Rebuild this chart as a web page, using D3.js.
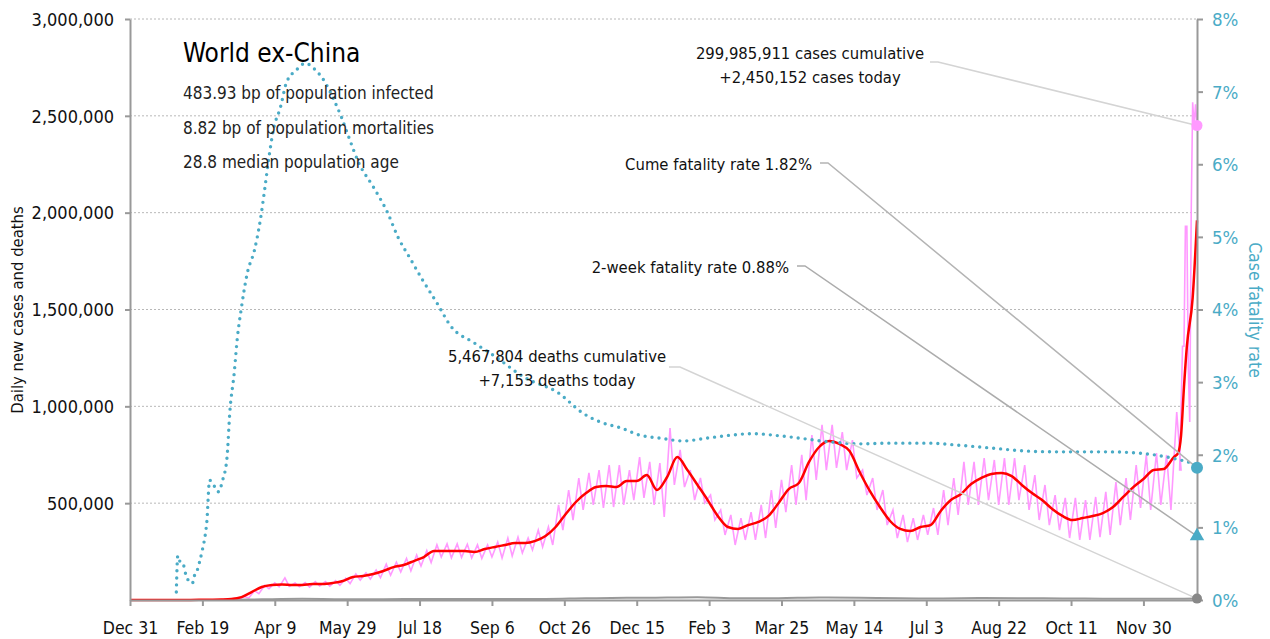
<!DOCTYPE html>
<html>
<head>
<meta charset="utf-8">
<script src="https://cdn.jsdelivr.net/npm/d3@7"></script>
<style>
  body { margin: 0; background: #fff; }
  text { font-family: 'Liberation Sans Narrow', 'DejaVu Sans Condensed', sans-serif; font-stretch: condensed; }
</style>
</head>
<body>
<script>
// variables:
var w = 1270
var h = 639
var padLeft = 130
var padRight = 1197
var padTop = 19
var padBottom = 600

var svg = d3.select('body')
  .append('svg')
  .attr('width', w)
  .attr('height', h)

// data: day offsets count from Dec 31, 2019
var startDate = new Date(2019, 11, 31)
var lastDay = 737

// 7-day average of new cases, one value per week (day 0, 7, 14, ...)
var avgWeekly = [0, 0, 100, 200, 300, 500, 600, 1000, 1500, 2500,
  5000, 15000, 41000, 67000, 77000, 80000, 78000, 78000, 83000, 83000,
  88000, 98000, 119000, 124000, 134000, 150000, 170000, 181000, 201000, 222000,
  253000, 253000, 253000, 253000, 248000, 263000, 274000, 284000, 294000, 294000,
  305000, 330000, 377000, 444000, 506000, 552000, 583000, 589000, 583000, 614000,
  614000, 645000, 568000, 635000, 738000, 671000, 594000, 516000, 434000, 377000,
  367000, 387000, 403000, 434000, 501000, 573000, 604000, 713000, 790000, 821000,
  806000, 769000, 661000, 563000, 480000, 408000, 367000, 356000, 377000, 387000,
  460000, 516000, 547000, 599000, 630000, 651000, 656000, 640000, 594000, 552000,
  516000, 470000, 434000, 413000, 423000, 434000, 449000, 480000, 532000, 583000,
  625000, 671000, 676000, 738000]
// last days of the average (Omicron surge)
var avgTailDay = [724, 726, 728, 730, 734, 737]
var avgTailValue = [760000, 850000, 1100000, 1310000, 1560000, 1960000]

// daily new cases: weekly high and weekly low, same weeks as above
var dailyHigh = [0, 0, 100, 200, 300, 500, 600, 1000, 1600, 2800,
  7000, 18000, 48000, 75000, 88000, 114000, 88000, 90000, 95000, 95000,
  100000, 112000, 135000, 140000, 155000, 185000, 195000, 215000, 232000, 255000,
  285000, 290000, 290000, 288000, 285000, 284000, 299000, 320000, 325000, 320000,
  361000, 377000, 491000, 568000, 630000, 656000, 671000, 697000, 697000, 671000,
  738000, 713000, 707000, 888000, 775000, 671000, 630000, 542000, 465000, 439000,
  423000, 454000, 491000, 568000, 620000, 697000, 749000, 852000, 904000, 904000,
  867000, 826000, 671000, 630000, 568000, 465000, 439000, 423000, 439000, 475000,
  568000, 630000, 713000, 713000, 733000, 723000, 733000, 733000, 697000, 645000,
  594000, 542000, 527000, 527000, 516000, 532000, 558000, 609000, 630000, 697000,
  749000, 759000, 749000, 971000]
var dailyLow = [0, 0, 100, 200, 300, 500, 600, 900, 1400, 2200,
  3000, 10000, 33000, 58000, 68000, 70000, 68000, 66000, 72000, 72000,
  76000, 85000, 103000, 108000, 115000, 128000, 145000, 150000, 175000, 193000,
  222000, 218000, 220000, 217000, 215000, 222000, 217000, 227000, 243000, 258000,
  274000, 284000, 361000, 413000, 465000, 491000, 475000, 480000, 491000, 516000,
  527000, 491000, 429000, 594000, 583000, 516000, 501000, 413000, 336000, 284000,
  310000, 310000, 320000, 372000, 454000, 491000, 516000, 620000, 671000, 682000,
  671000, 630000, 542000, 465000, 387000, 320000, 299000, 310000, 336000, 336000,
  387000, 439000, 491000, 491000, 516000, 491000, 491000, 516000, 465000, 413000,
  387000, 361000, 320000, 310000, 310000, 325000, 336000, 387000, 413000, 475000,
  465000, 491000, 465000, 671000]
var dailyTailDay = [725, 727, 728, 729, 730, 731, 732, 733, 734, 735, 736, 737]
var dailyTailValue = [671000, 1310000, 1310000, 1930000, 1930000, 1200000, 919000, 2000000,
  2570000, 2450000, 2560000, 2450152]

// daily deaths, 7-day average (very small on this scale)
var deathDay = [0, 63, 91, 119, 147, 175, 203, 231, 259, 287, 315, 343, 371, 392, 420,
  448, 476, 504, 532, 560, 588, 616, 644, 672, 700, 728, 737]
var deathValue = [0, 50, 3500, 6000, 4000, 4500, 5500, 5800, 5300, 5800, 9000, 11000,
  12500, 14300, 9000, 9500, 12500, 11000, 8500, 8000, 9800, 9500, 7500, 7000, 7000, 6500, 7153]

// cumulative case fatality rate, percent
var cfrDay = [32, 33, 34, 37, 38, 40, 43, 45, 47, 48, 50, 52, 53, 55, 57, 61, 64, 67, 69,
  72, 74, 77, 81, 86, 90, 93, 96, 99, 104, 108, 115, 121, 128, 135, 141, 146, 151,
  158, 168, 178, 185, 193, 202, 212, 222, 237, 251, 272, 296, 313, 325, 339, 352,
  366, 382, 399, 415, 430, 449, 458, 482, 504, 527, 551, 573, 596, 620, 642, 675,
  698, 716, 725, 732, 737]
var cfrPct = [0.11, 0.61, 0.55, 0.48, 0.39, 0.28, 0.23, 0.37, 0.44, 0.52, 0.69, 0.9, 1.06,
  1.65, 1.61, 1.49, 1.65, 1.96, 2.6, 3.13, 3.58, 4.03, 4.5, 4.82, 5.23, 5.65, 6.1,
  6.47, 6.79, 7.12, 7.3, 7.39, 7.3, 7.12, 6.88, 6.65, 6.38, 6.02, 5.69, 5.33, 5.0,
  4.72, 4.41, 4.09, 3.76, 3.55, 3.37, 3.07, 2.85, 2.57, 2.45, 2.37, 2.27, 2.23, 2.19,
  2.23, 2.27, 2.29, 2.26, 2.24, 2.18, 2.15, 2.16, 2.16, 2.13, 2.09, 2.05, 2.04, 2.04,
  2.02, 1.97, 1.93, 1.89, 1.82]

// end-of-series values
var casesToday = 2450152
var deathsToday = 7153
var cumeRate = 1.82
var twoWeekRate = 0.88

// texts
var title = 'World ex-China'
var subLines = ['483.93 bp of population infected', '8.82 bp of population mortalities',
  '28.8 median population age']
var caseNote = ['299,985,911 cases cumulative', '+2,450,152 cases today']
var deathNote = ['5,467,804 deaths cumulative', '+7,153 deaths today']
var cumeNote = 'Cume fatality rate 1.82%'
var twoWeekNote = '2-week fatality rate 0.88%'

var leftTicks = [500000, 1000000, 1500000, 2000000, 2500000, 3000000]
var rightTicks = [0, 1, 2, 3, 4, 5, 6, 7, 8]
var xTickDays = [0, 50, 100, 150, 200, 250, 300, 350, 400, 450, 500, 550, 600, 650, 700]

// colours
var pink = '#ff99ff'
var red = '#ff0000'
var teal = '#4aabc6'
var axisGrey = '#999999'

// helpers
var toDate = function (d) { return d3.timeDay.offset(startDate, d) }

// scales
var xScale = d3.scaleTime()
  .domain([startDate, toDate(lastDay)])
  .range([padLeft, padRight])

var yScale = d3.scaleLinear()
  .domain([0, 3000000])
  .range([padBottom, padTop])

var rScale = d3.scaleLinear()
  .domain([0, 8])
  .range([padBottom, padTop])

// build series
var avgData = avgWeekly.map(function (v, i) { return { day: i * 7, v: v } })
avgTailDay.forEach(function (d, i) { avgData.push({ day: d, v: avgTailValue[i] }) })

var dailyData = []
dailyHigh.forEach(function (v, i) {
  dailyData.push({ day: i * 7 + 2, v: v })
  dailyData.push({ day: i * 7 + 5, v: dailyLow[i] })
})
dailyTailDay.forEach(function (d, i) { dailyData.push({ day: d, v: dailyTailValue[i] }) })

var deathData = deathDay.map(function (d, i) { return { day: d, v: deathValue[i] } })
var cfrData = cfrDay.map(function (d, i) { return { day: d, v: cfrPct[i] } })

var lineLeft = d3.line()
  .x(function (d) { return xScale(toDate(d.day)) })
  .y(function (d) { return yScale(d.v) })

var smoothLeft = d3.line()
  .x(function (d) { return xScale(toDate(d.day)) })
  .y(function (d) { return yScale(d.v) })
  .curve(d3.curveMonotoneX)

var lineRight = d3.line()
  .x(function (d) { return xScale(toDate(d.day)) })
  .y(function (d) { return rScale(d.v) })
  .curve(d3.curveMonotoneX)

// gridlines
svg.selectAll('line.grid')
  .data(leftTicks)
  .enter()
  .append('line')
  .attr('class', 'grid')
  .attr('x1', padLeft)
  .attr('x2', padRight)
  .attr('y1', function (d) { return yScale(d) })
  .attr('y2', function (d) { return yScale(d) })
  .attr('stroke', '#b8b8b8')
  .attr('stroke-width', 1)
  .attr('stroke-dasharray', '2,2')

// daily cases
svg.append('path')
  .datum(dailyData)
  .attr('d', lineLeft)
  .attr('fill', 'none')
  .attr('stroke', pink)
  .attr('stroke-width', 1.6)

// deaths
svg.append('path')
  .datum(deathData)
  .attr('d', smoothLeft)
  .attr('fill', 'none')
  .attr('stroke', '#999')
  .attr('stroke-width', 2)

// 7-day average
svg.append('path')
  .datum(avgData)
  .attr('d', smoothLeft)
  .attr('fill', 'none')
  .attr('stroke', red)
  .attr('stroke-width', 2.5)

// case fatality rate, dotted
svg.append('path')
  .datum(cfrData)
  .attr('d', lineRight)
  .attr('fill', 'none')
  .attr('stroke', teal)
  .attr('stroke-width', 3.4)
  .attr('stroke-linecap', 'round')
  .attr('stroke-dasharray', '0,7')

// axes
var xAxis = d3.axisBottom(xScale)
  .tickValues(xTickDays.map(toDate))
  .tickFormat(d3.timeFormat('%b %-d'))
  .tickSize(6)
  .tickSizeOuter(0)

var yAxis = d3.axisLeft(yScale)
  .tickValues(leftTicks)
  .tickFormat(d3.format(','))
  .tickSize(6)
  .tickSizeOuter(0)

var rAxis = d3.axisRight(rScale)
  .tickValues(rightTicks)
  .tickFormat(function (d) { return d + '%' })
  .tickSize(6)
  .tickSizeOuter(0)

var gx = svg.append('g')
  .attr('transform', 'translate(0,' + padBottom + ')')
  .call(xAxis)
gx.selectAll('text').attr('font-size', '17.5px').attr('fill', '#111').attr('dy', '1.45em')

var gy = svg.append('g')
  .attr('transform', 'translate(' + padLeft + ',0)')
  .call(yAxis)
gy.selectAll('text').attr('font-size', '18px').attr('fill', '#111').attr('dy', '0.35em').attr('x', -16)

var gr = svg.append('g')
  .attr('transform', 'translate(' + padRight + ',0)')
  .call(rAxis)
gr.selectAll('text').attr('font-size', '18.5px').attr('fill', teal).attr('dy', '0.35em').attr('x', 15)

svg.selectAll('.domain').attr('stroke', axisGrey).attr('stroke-width', 2)
svg.selectAll('.tick line').attr('stroke', axisGrey).attr('stroke-width', 2)
gy.selectAll('.tick line').attr('x2', -5)

// axis titles
svg.append('text')
  .attr('transform', 'translate(23,310) rotate(-90)')
  .attr('text-anchor', 'middle')
  .attr('font-size', '16.5px')
  .attr('fill', '#111')
  .text('Daily new cases and deaths')

svg.append('text')
  .attr('transform', 'translate(1249,310) rotate(90)')
  .attr('text-anchor', 'middle')
  .attr('font-size', '17.5px')
  .attr('fill', teal)
  .text('Case fatality rate')

// title block
svg.append('text')
  .attr('x', 183)
  .attr('y', 62)
  .attr('font-size', '26px')
  .attr('fill', '#000')
  .text(title)

svg.selectAll('text.sub')
  .data(subLines)
  .enter()
  .append('text')
  .attr('class', 'sub')
  .attr('x', 183)
  .attr('y', function (d, i) { return 99 + i * 34.5 })
  .attr('font-size', '17px')
  .attr('fill', '#222')
  .text(function (d) { return d })

// leader lines
var endX = xScale(toDate(lastDay))
var leaders = [
  { pts: [[930, 62], [938, 62], [endX, yScale(casesToday)]], c: '#d4d4d4' },
  { pts: [[820, 163], [828, 163], [endX, rScale(cumeRate)]], c: '#b4b4b4' },
  { pts: [[797, 266], [805, 266], [endX, rScale(twoWeekRate)]], c: '#acacac' },
  { pts: [[669, 367], [680, 367], [endX, yScale(deathsToday)]], c: '#d4d4d4' }
]
svg.selectAll('path.leader')
  .data(leaders)
  .enter()
  .append('path')
  .attr('class', 'leader')
  .attr('d', function (d) { return d3.line()(d.pts) })
  .attr('fill', 'none')
  .attr('stroke', function (d) { return d.c })
  .attr('stroke-width', 1.5)

// annotation texts
svg.selectAll('text.cnote')
  .data(caseNote)
  .enter()
  .append('text')
  .attr('class', 'cnote')
  .attr('x', 810)
  .attr('y', function (d, i) { return 59 + i * 24 })
  .attr('text-anchor', 'middle')
  .attr('font-size', '16.5px')
  .attr('fill', '#111')
  .text(function (d) { return d })

svg.selectAll('text.dnote')
  .data(deathNote)
  .enter()
  .append('text')
  .attr('class', 'dnote')
  .attr('x', 557)
  .attr('y', function (d, i) { return 362 + i * 24 })
  .attr('text-anchor', 'middle')
  .attr('font-size', '16.5px')
  .attr('fill', '#111')
  .text(function (d) { return d })

svg.append('text')
  .attr('x', 812)
  .attr('y', 170)
  .attr('text-anchor', 'end')
  .attr('font-size', '16.5px')
  .attr('fill', '#111')
  .text(cumeNote)

svg.append('text')
  .attr('x', 789)
  .attr('y', 273)
  .attr('text-anchor', 'end')
  .attr('font-size', '16.5px')
  .attr('fill', '#111')
  .text(twoWeekNote)

// end markers
svg.append('circle')
  .attr('cx', endX)
  .attr('cy', yScale(casesToday))
  .attr('r', 5.5)
  .attr('fill', pink)

svg.append('circle')
  .attr('cx', endX)
  .attr('cy', rScale(cumeRate))
  .attr('r', 6)
  .attr('fill', teal)

svg.append('path')
  .attr('d', d3.symbol().type(d3.symbolTriangle).size(90))
  .attr('transform', 'translate(' + endX + ',' + rScale(twoWeekRate) + ')')
  .attr('fill', teal)

svg.append('circle')
  .attr('cx', endX)
  .attr('cy', yScale(deathsToday))
  .attr('r', 5)
  .attr('fill', '#888')
</script>
</body>
</html>
